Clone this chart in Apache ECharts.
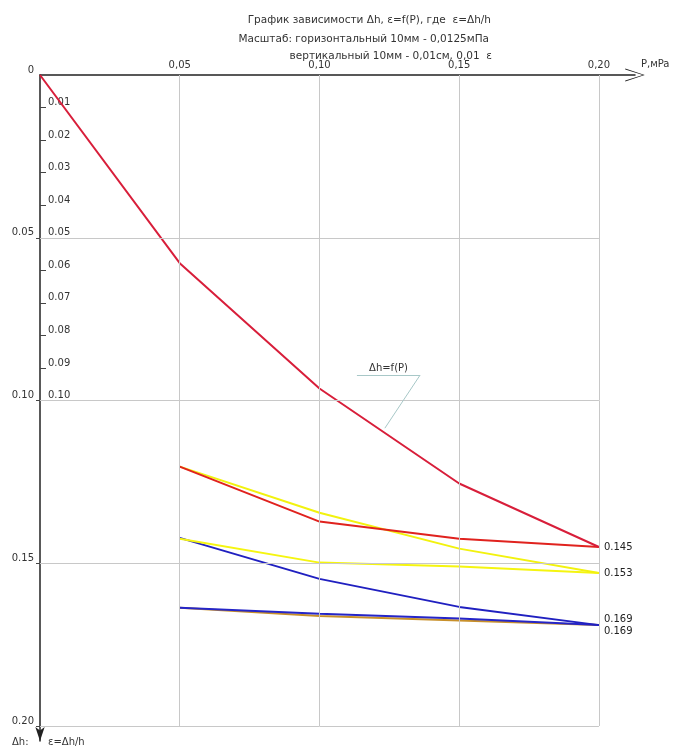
<!DOCTYPE html>
<html><head><meta charset="utf-8">
<script src="https://cdn.jsdelivr.net/npm/echarts@6/dist/echarts.min.js"></script>
<style>html,body{margin:0;padding:0;background:#fff}#c{width:695px;height:749px}</style>
</head><body><div id="c"></div>
<script>
// ---- data ----
const pressureAll = [0, 0.05, 0.10, 0.15, 0.20];
const dhMain      = [0, 0.0578, 0.0963, 0.1255, 0.145];
const pressureLoad = [0.05, 0.10, 0.15, 0.20];
const red2    = [0.1203, 0.1372, 0.1425, 0.145];
const yellow1 = [0.1203, 0.1345, 0.1455, 0.153];
const yellow2 = [0.1425, 0.1498, 0.1510, 0.153];
const blue1   = [0.1422, 0.1548, 0.1634, 0.169];
const blue2   = [0.1637, 0.1655, 0.1670, 0.169];
const orange1 = [0.1637, 0.1662, 0.1676, 0.169];
const xTicks = [0.05, 0.10, 0.15, 0.20];
const yMajorTicks = [0, 0.05, 0.10, 0.15, 0.20];
const yMinorTicks = [0.01,0.02,0.03,0.04,0.05,0.06,0.07,0.08,0.09,0.10];
const gridValues = [0.05, 0.10, 0.15, 0.20];

const FONT = 'DejaVu Sans';
const pair = (xs, ys) => xs.map((x, i) => [x, ys[i]]);

function lineSeries(name, xs, ys, color, endLabel, offset) {
  const s = {name, type: 'line', data: pair(xs, ys), symbol: 'none', showSymbol: false,
    lineStyle: {color, width: 2}, itemStyle: {color}, z: 3, animation: false};
  if (endLabel) {
    s.endLabel = {show: true, distance: 5, offset: offset || [0, 0],
      formatter: p => p.value[1].toFixed(3), color: '#222', fontSize: 10, fontFamily: FONT};
  }
  return s;
}

const chart = echarts.init(document.getElementById('c'), null, {renderer: 'canvas'});
const gridLines = [];
gridValues.forEach(v => {
  gridLines.push([{coord: [0, v]}, {coord: [0.20, v]}]);
  gridLines.push([{coord: [v, 0]}, {coord: [v, 0.20]}]);
});

const openArrow = 'path://M10,0 L20,30 L18.5,30 L10,3 L1.5,30 L0,30 Z';
const TS = {fontSize: 10.5, fontWeight: 'normal', color: '#333', fontFamily: FONT};

chart.setOption({
  animation: false,
  backgroundColor: '#fff',
  title: [
    {text: 'График зависимости Δh, ε=f(P), где  ε=Δh/h', right: 199, top: 10, textStyle: TS},
    {text: 'Масштаб: горизонтальный 10мм - 0,0125мПа', right: 201, top: 29, textStyle: TS},
    {text: 'вертикальный 10мм - 0,01см, 0,01  ε', right: 198, top: 46, textStyle: TS}
  ],
  grid: {left: 40, top: 75, right: 60, bottom: 8, containLabel: false},
  xAxis: {
    type: 'value', position: 'top', min: 0, max: 0.2129,
    name: 'P,мPa', nameLocation: 'end', nameGap: 6,
    nameTextStyle: {fontSize: 10, color: '#333', fontFamily: FONT, verticalAlign: 'bottom', padding: [0,0,6,0]},
    axisLine: {show: true, lineStyle: {color: '#222', width: 1.5}, symbol: ['none', openArrow], symbolSize: [13, 26]},
    axisTick: {show: false},
    splitLine: {show: false},
    axisLabel: {customValues: xTicks, formatter: v => v.toFixed(2).replace('.', ','), fontSize: 10, color: '#333', fontFamily: FONT, margin: 5}
  },
  yAxis: [
    {
      type: 'value', inverse: true, min: 0, max: 0.2046,
      axisLine: {show: true, onZero: false, lineStyle: {color: '#222', width: 1.5}, symbol: ['arrow', 'none'], symbolSize: [7, 14]},
      axisTick: {show: true, customValues: yMajorTicks.slice(1), length: 4, lineStyle: {color: '#444'}},
      splitLine: {show: false},
      axisLabel: {customValues: yMajorTicks, formatter: v => v === 0 ? '0' : v.toFixed(2), fontSize: 10, color: '#333', fontFamily: FONT, margin: 6, verticalAlign: 'bottom'}
    },
    {
      type: 'value', inverse: true, min: 0, max: 0.2046, position: 'left',
      axisLine: {show: false},
      axisTick: {show: true, inside: true, customValues: yMinorTicks, length: 6, lineStyle: {color: '#444'}},
      splitLine: {show: false},
      axisLabel: {inside: true, customValues: yMinorTicks, formatter: v => v.toFixed(2), fontSize: 10, color: '#333', fontFamily: FONT, margin: 8, verticalAlign: 'bottom'}
    }
  ],
  graphic: [
    {type: 'text', left: 12, top: 737, style: {text: 'Δh:', fontSize: 10, fill: '#333', fontFamily: FONT}},
    {type: 'text', left: 48, top: 737, style: {text: 'ε=Δh/h', fontSize: 10, fill: '#333', fontFamily: FONT}}
  ],
  series: [
    {type: 'line', data: [], silent: true, z: 1,
     markLine: {silent: true, symbol: 'none', animation: false, label: {show: false},
       lineStyle: {color: '#c8c8c8', width: 1, type: 'solid'}, data: gridLines}},
    lineSeries('orange', pressureLoad, orange1, '#c8902a', false),
    lineSeries('blue2', pressureLoad, blue2, '#2525c8', true, [0, 6]),
    lineSeries('blue1', pressureLoad, blue1, '#2020c0', true, [0, -6]),
    lineSeries('yellow2', pressureLoad, yellow2, '#f5f510', false),
    lineSeries('yellow1', pressureLoad, yellow1, '#f2f20e', true),
    lineSeries('red2', pressureLoad, red2, '#e0221e', false),
    Object.assign(lineSeries('main', pressureAll, dhMain, '#d81e3a', true), {
      markLine: {silent: true, symbol: 'none', animation: false,
        lineStyle: {color: '#a8c8c8', width: 1, type: 'solid'},
        data: [
          [{coord: [0.1134, 0.0922], label: {show: true, position: 'insideMiddleTop', formatter: 'Δh=f(P)', color: '#333', fontSize: 10, fontFamily: FONT, distance: 2}},
           {coord: [0.1360, 0.0922]}],
          [{coord: [0.1360, 0.0922], label: {show: false}}, {coord: [0.1234, 0.1085]}]
        ]}
    })
  ]
});
</script>
</body></html>
